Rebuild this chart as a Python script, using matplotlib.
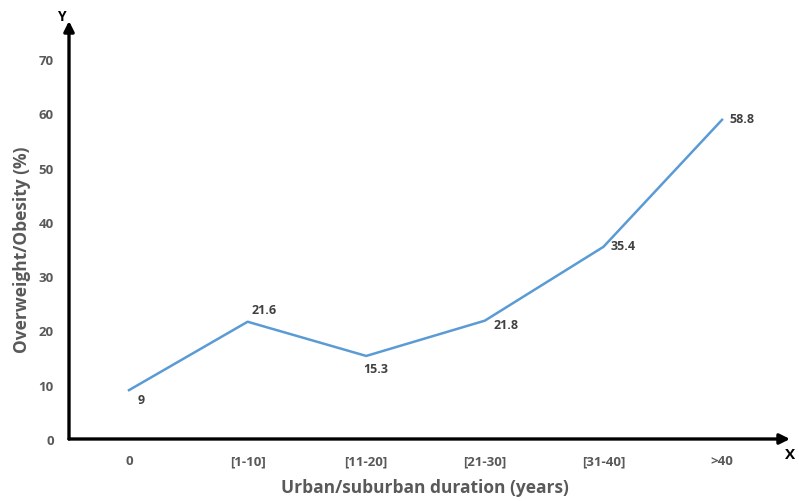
import matplotlib
matplotlib.use("Agg")
import matplotlib.pyplot as plt

categories = ["0", "[1-10]", "[11-20]", "[21-30]", "[31-40]", ">40"]
values = [9, 21.6, 15.3, 21.8, 35.4, 58.8]
yticks = [0, 10, 20, 30, 40, 50, 60, 70]

plt.rcParams['font.family'] = ['Open Sans', 'DejaVu Sans']

W, H = 799, 502
fig = plt.figure(figsize=(W/100, H/100), dpi=100)
left, right, bottom, top = 69, 790, 440, 22
ax = fig.add_axes([left/W, (H-bottom)/H, (right-left)/W, (bottom-top)/H])

x = list(range(len(categories)))
ax.plot(x, values, color="#5B9BD5", lw=1.8)

ax.set_xlim(-0.506, 5.573)
ax.set_ylim(0, 77)
ax.set_xticks(x)
ax.set_xticklabels(categories)
ax.set_yticks(yticks)
ax.set_yticklabels([str(v) for v in yticks])
ax.tick_params(length=0, labelsize=9.5, labelcolor="#595959")
ax.tick_params(axis='y', pad=11)
ax.tick_params(axis='x', pad=11)
for lab in ax.get_xticklabels() + ax.get_yticklabels():
    lab.set_fontweight('bold')
for s in ax.spines.values():
    s.set_visible(False)

# axis arrows
ax.annotate("", xy=(0, 1), xytext=(0, 0), xycoords='axes fraction',
            arrowprops=dict(arrowstyle='-|>,head_length=0.6,head_width=0.3', color='black', lw=2.4, shrinkA=0, shrinkB=0))
ax.annotate("", xy=(1, 0), xytext=(0, 0), xycoords='axes fraction',
            arrowprops=dict(arrowstyle='-|>,head_length=0.6,head_width=0.3', color='black', lw=2.4, shrinkA=0, shrinkB=0))

fig.text(790/W, 1-455/H, "X", ha='center', va='center', fontsize=11, fontweight='bold', color='black')
fig.text(61/W, 1-17/H, "Y", ha='center', va='center', fontsize=10, fontweight='bold', color='black')

# data labels (offsets in points)
offsets = [(6, -7), (3, 9), (-2, -9), (6, -3), (5, 1), (5, 1)]
for xi, v, (dx, dy) in zip(x, values, offsets):
    txt = f"{v:g}"
    ax.annotate(txt, (xi, v), xytext=(dx, dy), textcoords='offset points',
                ha='left', va='center', fontsize=9, fontweight='bold', color='#404040')

fig.text(425/W, 1-488/H, "Urban/suburban duration (years)", ha='center', va='center',
         fontsize=12.5, fontweight='bold', color='#595959')
fig.text(22/W, 1-250/H, "Overweight/Obesity (%)", ha='center', va='center', rotation=90,
         fontsize=12.5, fontweight='bold', color='#595959')

fig.savefig("out.png", dpi=100)
